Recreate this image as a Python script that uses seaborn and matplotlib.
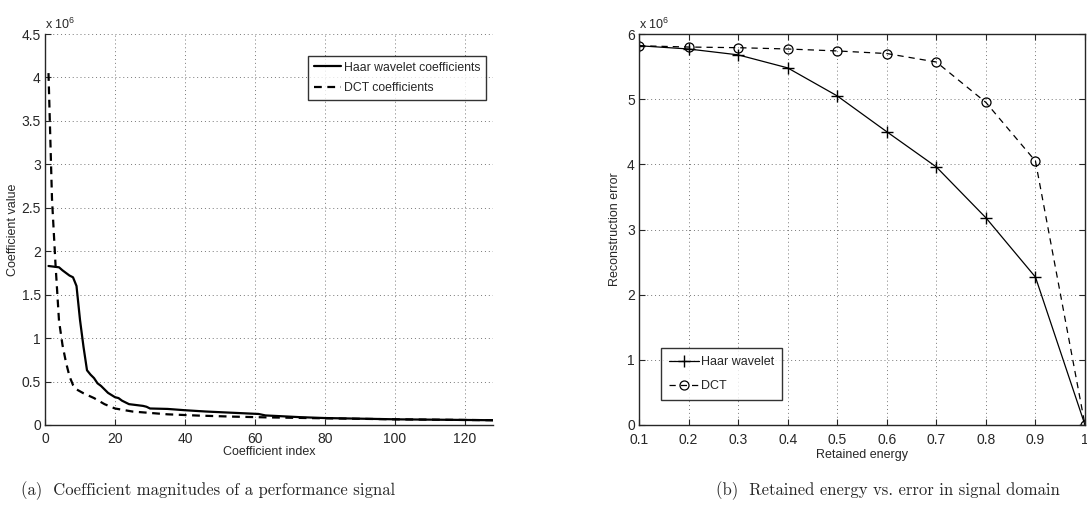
import seaborn as sns
import pandas as pd
import matplotlib.pyplot as plt
from matplotlib.ticker import FormatStrFormatter

#%% Data (values in units of 1e6)
# (a) sorted coefficient magnitudes
haar_idx = [1, 4, 5, 7, 8, 9, 10, 11, 12, 13, 14, 15, 16, 18, 20, 21, 22, 24,
            28, 29, 30, 35, 40, 46, 54, 61, 63, 73, 80, 101, 128]
haar_val = [1.83, 1.815, 1.78, 1.72, 1.70, 1.60, 1.21, 0.90, 0.63, 0.58, 0.54,
            0.48, 0.45, 0.37, 0.32, 0.31, 0.28, 0.24, 0.22, 0.21, 0.19, 0.185,
            0.17, 0.155, 0.14, 0.127, 0.11, 0.09, 0.08, 0.065, 0.055]
dct_idx = [1, 2, 3, 4, 5, 6, 7, 8, 9, 11, 14, 17, 20, 25, 35, 44, 54, 63, 80,
           101, 128]
dct_val = [4.05, 2.6, 1.85, 1.2, 0.92, 0.72, 0.56, 0.46, 0.41, 0.365, 0.31,
           0.24, 0.19, 0.155, 0.123, 0.108, 0.096, 0.088, 0.077, 0.065, 0.055]

# (b) retained energy vs reconstruction error
energy = [0.1, 0.2, 0.3, 0.4, 0.5, 0.6, 0.7, 0.8, 0.9, 1.0]
haar_err = [5.82, 5.77, 5.68, 5.48, 5.05, 4.50, 3.96, 3.18, 2.27, 0.0]
dct_err = [5.82, 5.80, 5.79, 5.77, 5.74, 5.70, 5.57, 4.95, 4.05, 0.0]

left_xticks = [0, 20, 40, 60, 80, 100, 120]
left_yticks = [0, 0.5, 1, 1.5, 2, 2.5, 3, 3.5, 4, 4.5]
right_xticks = [0.1, 0.2, 0.3, 0.4, 0.5, 0.6, 0.7, 0.8, 0.9, 1.0]
right_yticks = [0, 1, 2, 3, 4, 5, 6]

#%% Theming
sns.set_style("ticks")
plt.rcParams['font.family'] = ['Liberation Sans', 'DejaVu Sans']
plt.rcParams['mathtext.fontset'] = 'custom'
plt.rcParams['mathtext.rm'] = 'Liberation Sans'
plt.rcParams['axes.linewidth'] = 1.0
plt.rcParams['xtick.direction'] = 'in'
plt.rcParams['ytick.direction'] = 'in'

grid_kw = dict(color='#777777', linestyle=(0, (1, 3)), linewidth=0.7)

fig = plt.figure(figsize=(10.87, 5.16), dpi=100)
ax1 = fig.add_axes([45 / 1087, 91 / 516, 448 / 1087, 391 / 516])
ax2 = fig.add_axes([639 / 1087, 91 / 516, 446 / 1087, 391 / 516])

#%% Panel (a)
df_h = pd.DataFrame({"idx": haar_idx, "val": haar_val})
df_d = pd.DataFrame({"idx": dct_idx, "val": dct_val})
sns.lineplot(data=df_h, x="idx", y="val", ax=ax1, color='black', lw=1.6,
             label='Haar wavelet coefficients')
sns.lineplot(data=df_d, x="idx", y="val", ax=ax1, color='black', lw=1.6,
             linestyle=(0, (3.5, 2.5)), label='DCT coefficients')
ax1.set_xlim(0, 128)
ax1.set_ylim(0, 4.5)
ax1.set_xticks(left_xticks)
ax1.set_yticks(left_yticks)
ax1.yaxis.set_major_formatter(FormatStrFormatter('%g'))
ax1.grid(True, **grid_kw)
ax1.spines['top'].set_visible(False)
ax1.spines['right'].set_visible(False)
ax1.tick_params(labelsize=10, length=4, width=0.8, pad=3)
ax1.tick_params(axis='x', pad=5)
ax1.set_xlabel('Coefficient index', fontsize=9, labelpad=0)
ax1.set_ylabel('Coefficient value', fontsize=9, labelpad=2)
ax1.text(0.0, 1.005, r'x 10$^{6}$', transform=ax1.transAxes, fontsize=9,
         ha='left', va='bottom')
leg1 = ax1.legend(loc='upper right', bbox_to_anchor=(0.985, 0.945), fontsize=8.8,
                  frameon=True, fancybox=False, handlelength=2.2,
                  handletextpad=0.2, borderpad=0.5, labelspacing=0.7,
                  borderaxespad=0)
leg1.get_frame().set_edgecolor('black')
leg1.get_frame().set_linewidth(1.0)

#%% Panel (b)
df_e = pd.DataFrame({"energy": energy, "haar": haar_err, "dct": dct_err})
sns.lineplot(data=df_e, x="energy", y="haar", ax=ax2, color='black', lw=0.9,
             marker='+', markersize=8, markeredgewidth=1.0,
             markeredgecolor='black', label='Haar wavelet')
sns.lineplot(data=df_e, x="energy", y="dct", ax=ax2, color='black', lw=0.9,
             linestyle=(0, (5, 4)), marker='o', markersize=6.5,
             markerfacecolor='none', markeredgecolor='black',
             markeredgewidth=0.9, label='DCT')
ax2.set_xlim(0.1, 1.0)
ax2.set_ylim(0, 6)
ax2.set_xticks(right_xticks)
ax2.set_yticks(right_yticks)
ax2.xaxis.set_major_formatter(FormatStrFormatter('%g'))
ax2.grid(True, **grid_kw)
ax2.tick_params(labelsize=10, length=4, width=0.8, pad=3,
                top=True, right=True)
ax2.tick_params(axis='x', pad=6)
ax2.set_xlabel('Retained energy', fontsize=9, labelpad=1)
ax2.set_ylabel('Reconstruction error', fontsize=9, labelpad=4)
ax2.text(0.0, 1.005, r'x 10$^{6}$', transform=ax2.transAxes, fontsize=9,
         ha='left', va='bottom')
leg2 = ax2.legend(loc='lower left', bbox_to_anchor=(0.05, 0.064), fontsize=9,
                  frameon=True, fancybox=False, handlelength=2.4,
                  handletextpad=0.2, borderpad=0.6, labelspacing=1.0,
                  borderaxespad=0)
leg2.get_frame().set_edgecolor('black')
leg2.get_frame().set_linewidth(1.0)

#%% Captions
fig.text(208 / 1087, 1 - 491 / 516,
         '(a)  Coefficient magnitudes of a performance signal',
         family='cmr10', fontsize=12, ha='center', va='center')
fig.text(888 / 1087, 1 - 491 / 516,
         '(b)  Retained energy vs. error in signal domain',
         family='cmr10', fontsize=12, ha='center', va='center')

plt.savefig('out.png', dpi=100)
